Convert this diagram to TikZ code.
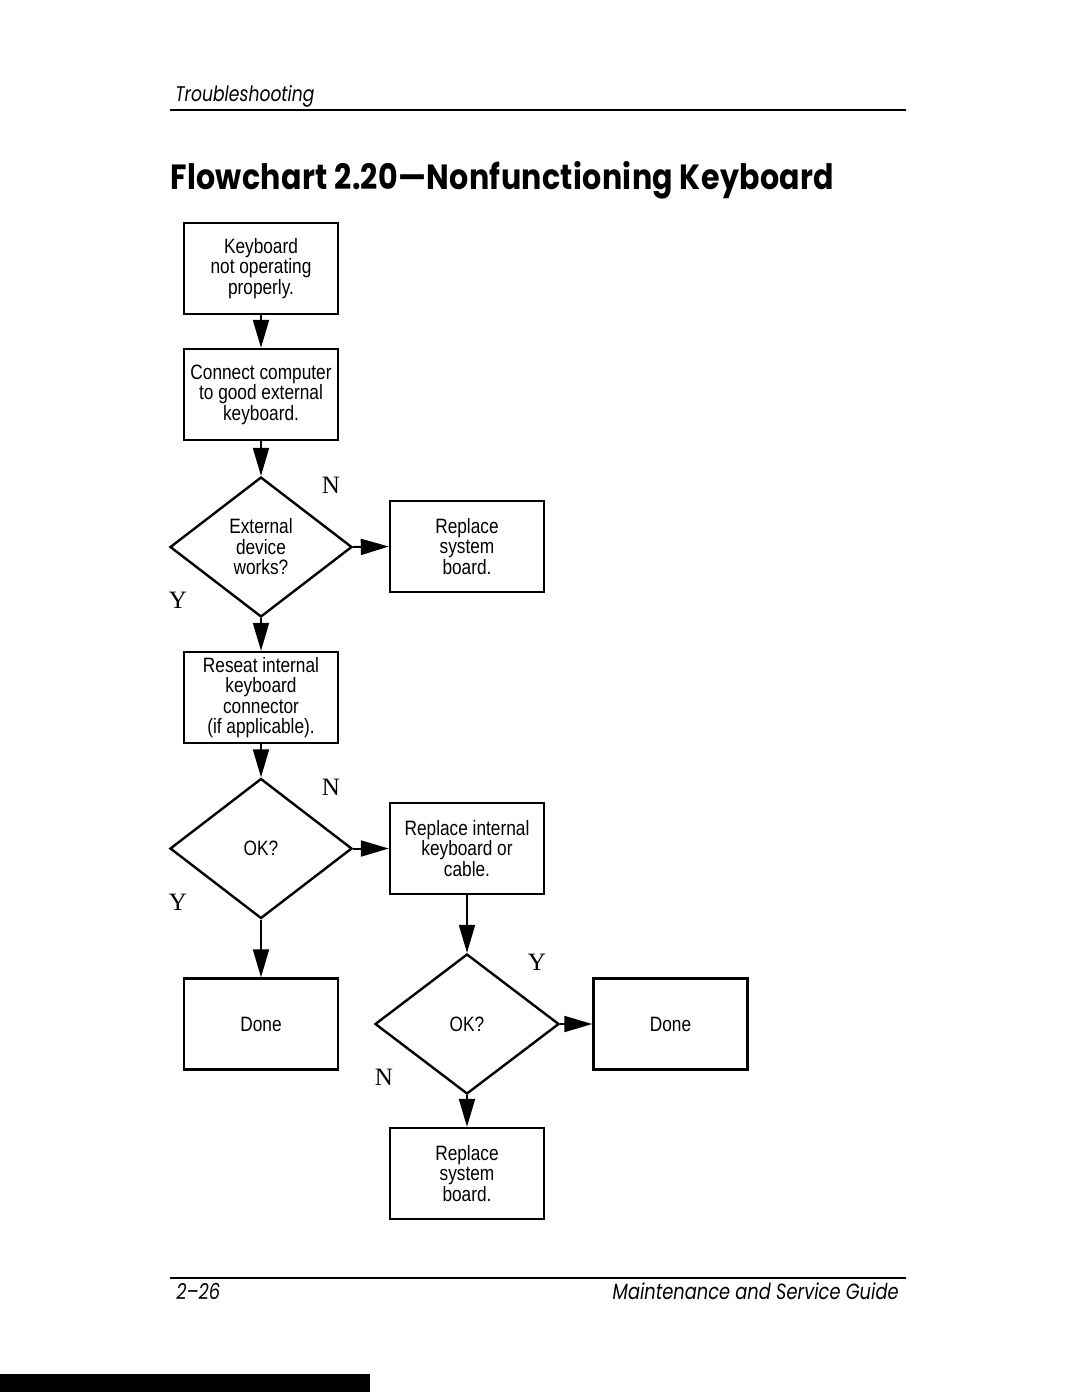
\documentclass[tikz,border=0pt]{standalone}
\usepackage{fontspec}
\usepackage{tikz}
\usetikzlibrary{shapes.geometric,arrows.meta}
\setmainfont{Liberation Serif}
\newfontfamily\condsans[FakeStretch=0.83]{Liberation Sans}
\newfontfamily\futura[FakeStretch=0.81,Ligatures=TeX]{Poppins}
\newfontfamily\futurabold[FakeStretch=0.86,Ligatures=TeX,LetterSpace=1.0]{Poppins Bold}

\tikzset{
	procbox/.style={draw, line width=1.2pt, minimum width=77pt, minimum height=45.5pt, align=center, inner sep=0pt, font=\condsans\fontsize{10.4}{10.25}\selectfont},
	decbox/.style={draw, diamond, line width=1.2pt, minimum width=91pt, minimum height=70pt, align=center, inner sep=0pt, font=\condsans\fontsize{10.4}{10.25}\selectfont},
	flow/.style={line width=1pt, -{Triangle[length=14pt,width=8pt]}},
	yn/.style={font=\fontsize{12.5}{13}\selectfont, inner sep=0pt},
}

\begin{document}
\begin{tikzpicture}[x=0.5pt,y=-0.5pt]
		\useasboundingbox (0,0) rectangle (1080,1397);
		
		% page header
		\node [anchor=base west, inner sep=0pt, font=\futura\itshape\fontsize{10.6}{12}\selectfont] (hdr) at (175,101) {Troubleshooting};
		\draw [line width=0.8pt] (170,110) -- (906,110);
		\node [anchor=base west, inner sep=0pt, font=\futurabold\fontsize{17.5}{20}\selectfont] (title) at (170,189) {Flowchart 2.20---Nonfunctioning Keyboard};
		
		% boxes
		\node [procbox] (kbd) at (261,268.5) {Keyboard\\not operating\\properly.};
		\node [procbox] (ext) at (261,394.5) {Connect computer\\to good external\\keyboard.};
		\node [decbox] (works) at (261,547) {External\\device\\works?};
		\node [procbox] (sysa) at (467,546.5) {Replace\\system\\board.};
		\node [procbox] (reseat) at (261,697.5) {Reseat internal\\keyboard\\connector\\(if applicable).};
		\node [decbox] (oka) at (261,848.5) {OK?};
		\node [procbox] (repl) at (467,848.5) {Replace internal\\keyboard or\\cable.};
		\node [procbox] (donea) at (261,1024) {Done};
		\node [decbox, minimum width=92pt] (okb) at (467,1024) {OK?};
		\node [procbox] (doneb) at (670.5,1024) {Done};
		\node [procbox] (sysb) at (467,1173.5) {Replace\\system\\board.};
		
		% connectors
		\draw [flow] (kbd) -- (ext);
		\draw [flow] (ext) -- (works);
		\draw [flow] (works.east) -- (sysa.west);
		\draw [flow] (works.south) -- (reseat);
		\draw [flow] (reseat) -- (oka);
		\draw [flow] (oka.east) -- (repl.west);
		\draw [flow] (oka.south) -- (donea);
		\draw [flow] (repl) -- (okb);
		\draw [flow] (okb.east) -- (doneb.west);
		\draw [flow] (okb.south) -- (sysb);
		
		% Y / N labels
		\node [yn] (na) at (331,485) {N};
		\node [yn] (ya) at (178,600) {Y};
		\node [yn] (nb) at (331,787) {N};
		\node [yn] (yb) at (178,902) {Y};
		\node [yn] (yc) at (537,962) {Y};
		\node [yn] (nc) at (384,1077) {N};
		
		% page footer
		\draw [line width=0.8pt] (170,1278) -- (906,1278);
		\node [anchor=base west, inner sep=0pt, font=\futura\itshape\fontsize{11}{12}\selectfont] (pg) at (176,1299) {2--26};
		\node [anchor=base east, inner sep=0pt, font=\futura\itshape\fontsize{11}{12}\selectfont] (guide) at (899,1299) {Maintenance and Service Guide};
		\fill (0,1374) rectangle (370,1392);
\end{tikzpicture}
\end{document}
